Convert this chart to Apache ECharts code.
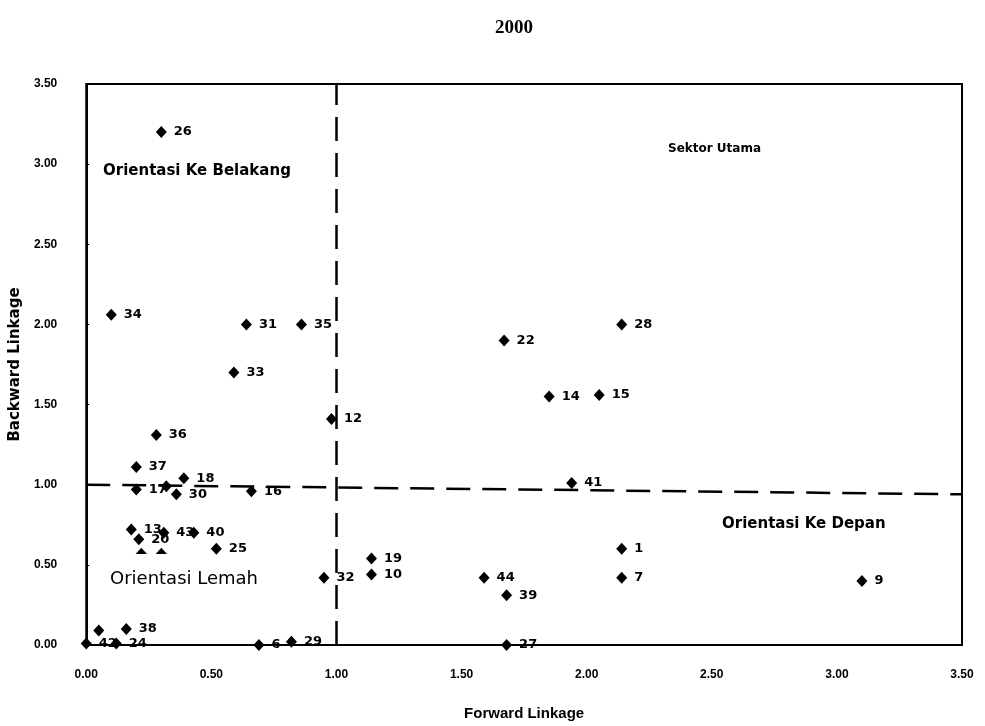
<!DOCTYPE html>
<html>
<head>
<meta charset="utf-8">
<script src="https://cdn.jsdelivr.net/npm/echarts@6/dist/echarts.min.js"></script>
<style>html,body{margin:0;padding:0;background:#fff}#c{width:985px;height:726px}</style>
</head>
<body>
<div id="c"></div>
<script>
// Sector numbers ('' = label hidden in the original)
var sectors = ['1','6','7','9','10','12','13','14','15','16','17','18','19','20','22','24','25','26','27','28','29','30','31','32','33','34','35','36','37','38','39','40','41','42','43','44','','','',''];
var forwardLinkage = [2.14,0.69,2.14,3.10,1.14,0.98,0.18,1.85,2.05,0.66,0.20,0.39,1.14,0.21,1.67,0.12,0.52,0.30,1.68,2.14,0.82,0.36,0.64,0.95,0.59,0.10,0.86,0.28,0.20,0.16,1.68,0.43,1.94,0.00,0.31,1.59,0.05,0.32,0.22,0.30];
var backwardLinkage = [0.60,0.00,0.42,0.40,0.44,1.41,0.72,1.55,1.56,0.96,0.97,1.04,0.54,0.66,1.90,0.01,0.60,3.20,0.00,2.00,0.02,0.94,2.00,0.42,1.70,2.06,2.00,1.31,1.11,0.10,0.31,0.70,1.01,0.01,0.70,0.42,0.09,0.99,0.57,0.57];
var xTicks = ['0.00','0.50','1.00','1.50','2.00','2.50','3.00','3.50'];
var yTicks = ['0.00','0.50','1.00','1.50','2.00','2.50','3.00','3.50'];
var vLine = [[1.0, 0.0], [1.0, 3.5]];
var hLine = [[0.0, 1.0], [3.5, 0.94]];

var pts = sectors.map(function (n, i) { return { name: n, value: [forwardLinkage[i], backwardLinkage[i]] }; });

var chart = echarts.init(document.getElementById('c'));
var font = 'Liberation Sans, Arial, sans-serif';
var dfont = 'DejaVu Sans, sans-serif';
chart.setOption({
  animation: false,
  backgroundColor: '#fff',
  grid: { left: 86, right: 23, top: 84, bottom: 81, show: true, borderColor: '#000', borderWidth: 2, backgroundColor: 'transparent' },
  xAxis: {
    type: 'value', min: 0, max: 3.5, interval: 0.5,
    name: 'Forward Linkage', nameLocation: 'middle', nameGap: 61,
    nameTextStyle: { fontFamily: font, fontWeight: 'bold', fontSize: 15, color: '#000' },
    axisLine: { show: true, lineStyle: { color: '#000', width: 2 } },
    axisTick: { show: false },
    splitLine: { show: false },
    axisLabel: { margin: 24, fontFamily: font, fontWeight: 'bold', fontSize: 12, color: '#000',
      formatter: function (v) { return xTicks[Math.round(v / 0.5)]; } }
  },
  yAxis: {
    type: 'value', min: 0, max: 3.5, interval: 0.5,
    name: 'Backward Linkage', nameLocation: 'middle', nameGap: 49,
    nameTextStyle: { fontFamily: dfont, fontWeight: 'bold', fontSize: 15, color: '#000' },
    axisLine: { show: true, lineStyle: { color: '#000', width: 2 } },
    axisTick: { show: true, inside: true, length: 3, lineStyle: { color: '#000' } },
    splitLine: { show: false },
    axisLabel: { margin: 29, fontFamily: font, fontWeight: 'bold', fontSize: 12, color: '#000',
      formatter: function (v) { return yTicks[Math.round(v / 0.5)]; } }
  },
  series: [{
    type: 'scatter',
    clip: false,
    symbol: 'diamond',
    symbolSize: [11, 12],
    itemStyle: { color: '#000', opacity: 1 },
    label: { show: true, position: 'right', distance: 7, formatter: '{b}', fontFamily: dfont, fontWeight: 'bold', fontSize: 13, color: '#000' },
    data: pts,
    markLine: {
      silent: true, symbol: 'none', animation: false,
      label: { show: false },
      lineStyle: { color: '#000', width: 2.5, type: [24, 12], opacity: 1 },
      data: [
        [{ coord: vLine[0] }, { coord: vLine[1] }],
        [{ coord: hLine[0] }, { coord: hLine[1] }]
      ]
    },
    z: 3
  }],
  graphic: [
    { type: 'text', x: 514, y: 19, z: 10, style: { text: '2000', font: 'bold 19px Liberation Serif, Times New Roman, serif', fill: '#000', textAlign: 'center' } },
    { type: 'text', left: 103, top: 164, z: 10, style: { text: 'Orientasi Ke Belakang', font: 'bold 15px ' + dfont, fill: '#000' } },
    { type: 'text', left: 668, top: 143, z: 10, style: { text: 'Sektor Utama', font: 'bold 12px ' + dfont, fill: '#000' } },
    { type: 'text', left: 722, top: 517, z: 10, style: { text: 'Orientasi Ke Depan', font: 'bold 15px ' + dfont, fill: '#000' } },
    { type: 'rect', left: 120, top: 554, z: 9, shape: { width: 60, height: 10 }, style: { fill: '#fff' } },
    { type: 'text', left: 110, top: 570, z: 10, style: { text: 'Orientasi Lemah', font: '18px ' + dfont, fill: '#000' } }
  ]
});
</script>
</body>
</html>
